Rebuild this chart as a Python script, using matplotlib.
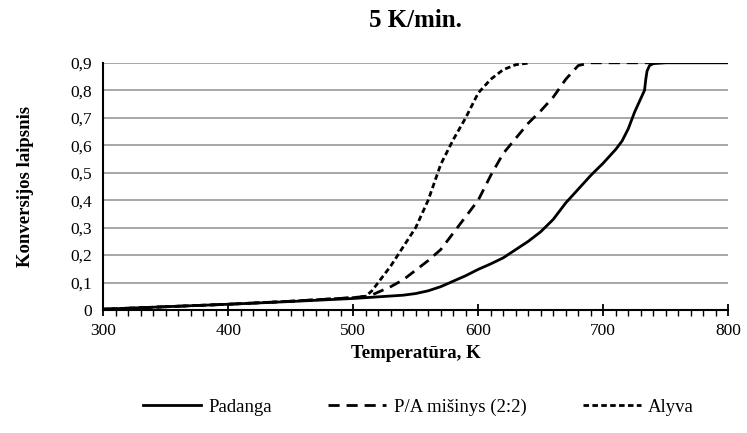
import numpy as np
import matplotlib
matplotlib.use('Agg')
import matplotlib.pyplot as plt
from matplotlib.ticker import MultipleLocator, FuncFormatter

plt.rcParams['font.family'] = ['Liberation Serif', 'DejaVu Serif']

# Padanga (solid)
pad_T = [300, 350, 400, 450, 500, 520, 540, 550, 560, 570, 580, 590, 600, 610, 620, 630,
         640, 650, 660, 670, 680, 690, 700, 710, 715, 720, 725, 730, 733, 734, 735, 737,
         740, 750, 800]
pad_y = [0.003, 0.012, 0.021, 0.031, 0.042, 0.048, 0.054, 0.06, 0.07, 0.085, 0.105, 0.125,
         0.148, 0.168, 0.19, 0.22, 0.25, 0.285, 0.33, 0.39, 0.44, 0.49, 0.535, 0.585, 0.615,
         0.66, 0.72, 0.77, 0.80, 0.84, 0.87, 0.89, 0.897, 0.9, 0.9]

# P/A misinys (2:2) (long dash)
pa_T = [300, 350, 400, 450, 500, 510, 515, 520, 530, 540, 550, 560, 570, 580, 590, 600,
        610, 620, 630, 640, 650, 660, 670, 680, 690, 738]
pa_y = [0.003, 0.012, 0.021, 0.032, 0.045, 0.05, 0.055, 0.065, 0.085, 0.11, 0.145, 0.18,
        0.22, 0.28, 0.34, 0.40, 0.49, 0.57, 0.625, 0.68, 0.725, 0.775, 0.84, 0.89, 0.9, 0.9]

# Alyva (short dash)
al_T = [300, 350, 400, 450, 500, 510, 515, 520, 530, 540, 550, 560, 570, 580, 590, 600,
        610, 620, 630, 642]
al_y = [0.003, 0.012, 0.021, 0.032, 0.045, 0.05, 0.07, 0.1, 0.16, 0.23, 0.3, 0.40, 0.53,
        0.62, 0.70, 0.79, 0.84, 0.875, 0.893, 0.9]

fig = plt.figure(figsize=(7.47, 4.33), dpi=100)
ax = fig.add_axes([0.138, 0.284, 0.837, 0.571])

ax.plot(pad_T, pad_y, color='black', lw=2, label='Padanga')
ax.plot(pa_T, pa_y, color='black', lw=2, dashes=(4, 2.5), label='P/A mišinys (2:2)')
ax.plot(al_T, al_y, color='black', lw=2, dashes=(2, 1.2), label='Alyva')

ax.set_xlim(300, 800)
ax.set_ylim(0, 0.9)
ax.xaxis.set_major_locator(MultipleLocator(100))
ax.xaxis.set_minor_locator(MultipleLocator(10))
ax.yaxis.set_major_locator(MultipleLocator(0.1))
ax.yaxis.set_major_formatter(FuncFormatter(lambda v, p: '0' if abs(v) < 1e-9 else f'{v:.1f}'.replace('.', ',')))

ax.grid(axis='y', color='#a0a0a0', lw=1.3)
ax.set_axisbelow(True)
for s in ['top', 'right']:
    ax.spines[s].set_visible(False)
ax.spines['left'].set_linewidth(1.5)
ax.spines['bottom'].set_linewidth(1.5)
ax.tick_params(axis='y', length=0, labelsize=12.5, pad=8)
ax.tick_params(axis='x', which='major', direction='inout', length=9, width=1.3, labelsize=12.5, pad=5)
ax.tick_params(axis='x', which='minor', direction='out', length=4, width=1)

ax.set_xlabel('Temperatūra, K', fontsize=13.5, fontweight='bold', labelpad=4)
ax.set_ylabel('Konversijos laipsnis', fontsize=13.5, fontweight='bold', labelpad=26)
ax.set_title('5 K/min.', fontsize=18, fontweight='bold', pad=26)

fig.legend(loc='center', bbox_to_anchor=(0.56, 0.06), ncol=3, frameon=False, fontsize=13.5,
           handlelength=3.1, columnspacing=3.0, handletextpad=0.4)

fig.savefig('out.png', dpi=100)
